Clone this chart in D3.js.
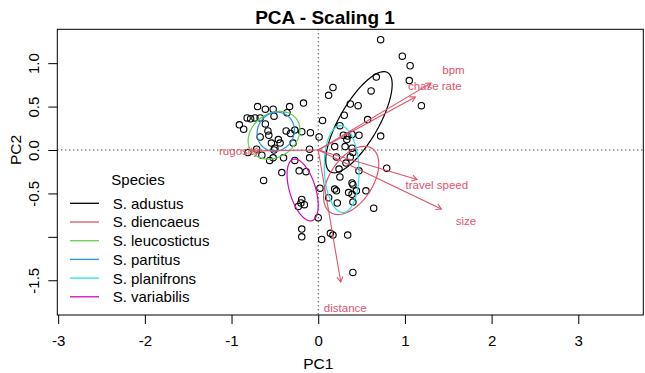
<!DOCTYPE html>
<html>
<head>
<meta charset="utf-8">
<script src="https://cdn.jsdelivr.net/npm/d3@7"></script>
<style>
  body { margin: 0; background: #fff; }
  svg { display: block; font-family: "Liberation Sans", Arial, sans-serif; }
</style>
</head>
<body>
<svg id="chart" width="645" height="373"></svg>
<script>
// site scores (PC1, PC2)
const pc1 = [
  -0.70, -0.61, -0.52, -0.33, -0.17, -0.82, -0.78, -0.73, -0.67, -0.51, -0.36,
  -0.91, -0.86, -0.61, -0.58, -0.57, -0.37, -0.32, -0.27, -0.19, -0.09,
  -0.67, -0.46, -0.44, -0.54, -0.29, -0.50, -0.51, -0.71, -0.81, -0.65,
  -0.56, -0.52, -0.40, -0.27, -0.10, -0.10, 0.01, 0.05, 0.12, 0.17,
  -0.63, -0.42, -0.22, -0.14, -0.19, -0.20, -0.23, -0.16, 0.02, 0.12,
  0.00, -0.19, -0.19, 0.14, 0.17, 0.04,
  0.72, 0.97, 1.06, 1.05, 1.19, 0.67, 0.61, 0.37, 0.46, 0.30, 0.57, 0.25,
  0.29, 0.34, 0.39, 0.47, 0.33, 0.72, 0.19, 0.31, 0.39, 0.40, 0.21, 0.37,
  0.32, 0.79, 0.24, 0.47, 0.25, 0.19, 0.21, 0.39, 0.40, 0.35, 0.39, 0.44,
  0.55, 0.22, 0.40, 0.64, 0.34, 0.40
];
const pc2 = [
  0.50, 0.47, 0.47, 0.50, 0.54, 0.37, 0.36, 0.37, 0.37, 0.39, 0.43,
  0.29, 0.24, 0.30, 0.22, 0.17, 0.22, 0.19, 0.23, 0.21, 0.20,
  0.15, 0.12, 0.08, 0.08, 0.08, 0.02, 0.00, 0.01, -0.03, -0.06,
  -0.12, -0.09, -0.09, -0.12, 0.01, -0.09, 0.15, 0.34, 0.63, 0.72,
  -0.35, -0.26, -0.24, -0.25, -0.57, -0.61, -0.65, -0.63, -0.44, -0.55,
  -0.78, -0.91, -1.00, -0.96, -0.98, -1.03,
  1.27, 1.08, 0.97, 0.80, 0.51, 0.84, 0.68, 0.53, 0.51, 0.40, 0.35, 0.28,
  0.17, 0.16, 0.18, 0.17, 0.12, 0.16, 0.04, 0.04, 0.02, -0.03, -0.08, -0.08,
  -0.15, -0.21, -0.22, -0.24, -0.31, -0.45, -0.47, -0.38, -0.40, -0.49, -0.51, -0.47,
  -0.47, -0.61, -0.60, -0.67, -0.98, -1.41
];

// species scores (arrows)
const varNames = ["bpm", "chase rate", "travel speed", "size", "distance", "rugosity"];
const varPC1 = [1.30, 1.12, 1.14, 1.42, 0.26, -0.76];
const varPC2 = [0.77, 0.61, -0.34, -0.68, -1.52, -0.01];

// group ellipses
const species = ["S. adustus", "S. diencaeus", "S. leucostictus", "S. partitus", "S. planifrons", "S. variabilis"];
const speciesColors = ["#000000", "#DF536B", "#61D04F", "#2297E6", "#28E2E5", "#CD0BBC"];
const ellCx = [0.47, 0.38, -0.51, -0.49, 0.27, -0.18];
const ellCy = [0.32, -0.35, 0.17, 0.21, -0.22, -0.46];
const ellA = [0.66, 0.44, 0.32, 0.23, 0.50, 0.37];
const ellB = [0.225, 0.25, 0.25, 0.21, 0.20, 0.15];
const ellAngle = [60, 57, 35, 60, 92, 107];

const xTicks = [-3, -2, -1, 0, 1, 2, 3];
const yTicks = [-1.5, -1.0, -0.5, 0.0, 0.5, 1.0];

const arrowCol = "#DF536B";
const plotLeft = 57.3, plotRight = 643.3, plotTop = 29.3, plotBottom = 315;

const svg = d3.select("#chart");

const x = d3.scaleLinear().domain([-3.01, 3.75]).range([plotLeft, plotRight]);
const y = d3.scaleLinear().domain([-1.90, 1.39]).range([plotBottom, plotTop]);

// dotted origin lines
svg.append("line")
    .attr("x1", x(0)).attr("x2", x(0)).attr("y1", plotTop).attr("y2", plotBottom)
    .attr("stroke", "#000").attr("stroke-dasharray", "1 3");
svg.append("line")
    .attr("x1", plotLeft).attr("x2", plotRight).attr("y1", y(0)).attr("y2", y(0))
    .attr("stroke", "#000").attr("stroke-dasharray", "1 3");

// points
svg.append("g").selectAll("circle")
    .data(pc1.map((d, i) => [d, pc2[i]]))
    .enter().append("circle")
    .attr("cx", d => x(d[0]))
    .attr("cy", d => y(d[1]))
    .attr("r", 3.2)
    .attr("fill", "none")
    .attr("stroke", "#000")
    .attr("stroke-width", 1.1);

// ellipses
const line = d3.line().x(d => x(d[0])).y(d => y(d[1])).curve(d3.curveLinearClosed);
species.forEach((s, i) => {
    const th = ellAngle[i] * Math.PI / 180;
    const pts = d3.range(0, 360, 4).map(t => {
        const r = t * Math.PI / 180;
        const ex = ellA[i] * Math.cos(r), ey = ellB[i] * Math.sin(r);
        return [ellCx[i] + ex * Math.cos(th) - ey * Math.sin(th),
                ellCy[i] + ex * Math.sin(th) + ey * Math.cos(th)];
    });
    svg.append("path")
        .attr("d", line(pts))
        .attr("fill", "none")
        .attr("stroke", speciesColors[i])
        .attr("stroke-width", 1.2);
});

// arrows
const headLen = 6, headAng = Math.PI / 6;
varNames.forEach((name, i) => {
    const x0 = x(0), y0 = y(0), x1 = x(varPC1[i]), y1 = y(varPC2[i]);
    const a = Math.atan2(y1 - y0, x1 - x0);
    svg.append("line")
        .attr("x1", x0).attr("y1", y0).attr("x2", x1).attr("y2", y1)
        .attr("stroke", arrowCol).attr("stroke-width", 1.1);
    svg.append("path")
        .attr("d", `M${x1 - headLen * Math.cos(a - headAng)},${y1 - headLen * Math.sin(a - headAng)}L${x1},${y1}L${x1 - headLen * Math.cos(a + headAng)},${y1 - headLen * Math.sin(a + headAng)}`)
        .attr("fill", "none").attr("stroke", arrowCol).attr("stroke-width", 1.1);
    svg.append("text")
        .attr("x", x(varPC1[i] * 1.2))
        .attr("y", y(varPC2[i] * 1.2))
        .attr("text-anchor", "middle")
        .attr("dominant-baseline", "central")
        .attr("font-size", "11.5px")
        .attr("fill", arrowCol)
        .text(name);
});

// box
svg.append("rect")
    .attr("x", plotLeft).attr("y", plotTop)
    .attr("width", plotRight - plotLeft).attr("height", plotBottom - plotTop)
    .attr("fill", "none").attr("stroke", "#000").attr("stroke-width", 1);

// axes
const xAxis = svg.append("g")
    .attr("transform", `translate(0,${plotBottom})`)
    .call(d3.axisBottom(x).tickValues(xTicks).tickSize(9).tickPadding(11).tickFormat(d => String(d)));
xAxis.select(".domain").remove();
xAxis.selectAll("text").attr("font-size", "15px").attr("fill", "#000").attr("font-family", null);

const yAxis = svg.append("g")
    .attr("transform", `translate(${plotLeft},0)`)
    .call(d3.axisLeft(y).tickValues(yTicks).tickSize(9).tickFormat(d => d === -1 ? "" : d.toFixed(1)));
yAxis.select(".domain").remove();
yAxis.selectAll("text")
    .attr("x", 0).attr("dy", null)
    .attr("text-anchor", "middle")
    .attr("transform", `translate(${38.7 - plotLeft},0) rotate(-90)`)
    .attr("font-size", "15px").attr("fill", "#000").attr("font-family", null);

// axis titles
svg.append("text")
    .attr("x", x(0)).attr("y", 369)
    .attr("text-anchor", "middle")
    .attr("font-size", "15.5px")
    .text("PC1");
svg.append("text")
    .attr("transform", `translate(20.5,${y(0)}) rotate(-90)`)
    .attr("text-anchor", "middle")
    .attr("font-size", "15.5px")
    .text("PC2");

// title
svg.append("text")
    .attr("x", 325).attr("y", 24)
    .attr("text-anchor", "middle")
    .attr("font-size", "19px")
    .attr("font-weight", "bold")
    .text("PCA - Scaling 1");

// legend
const legend = svg.append("g").attr("transform", "translate(70,203.3)");
legend.append("text")
    .attr("x", 68).attr("y", -24.3)
    .attr("text-anchor", "middle")
    .attr("dominant-baseline", "central")
    .attr("font-size", "15px")
    .text("Species");
legend.selectAll("line")
    .data(species)
    .enter().append("line")
    .attr("x1", 0).attr("x2", 29)
    .attr("y1", (d, i) => i * 18.7).attr("y2", (d, i) => i * 18.7)
    .attr("stroke", (d, i) => speciesColors[i])
    .attr("stroke-width", 1.3);
legend.selectAll("text.lab")
    .data(species)
    .enter().append("text")
    .attr("class", "lab")
    .attr("x", 42.7)
    .attr("y", (d, i) => i * 18.7)
    .attr("dominant-baseline", "central")
    .attr("font-size", "15px")
    .text(d => d);
</script>
</body>
</html>
